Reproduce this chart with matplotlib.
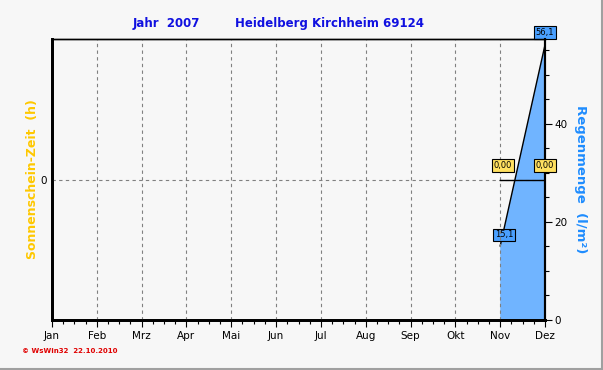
import matplotlib
matplotlib.use("Agg")
import matplotlib.pyplot as plt
import numpy as np
from matplotlib.ticker import MultipleLocator
from matplotlib.lines import Line2D

months = ["Jan", "Feb", "Mrz", "Apr", "Mai", "Jun", "Jul", "Aug", "Sep", "Okt", "Nov", "Dez"]
rain = [np.nan] * 10 + [15.1, 56.1]          # Regenmenge (l/m²)
sunshine = [np.nan] * 10 + [0.0, 0.0]         # Sonnenschein-Zeit (h)
rain_labels = ["15,1", "56,1"]
sun_labels = ["0,00", "0,00"]

BG = "#F7F7F7"
fig = plt.figure(figsize=(6.03, 3.70), dpi=100, facecolor=BG)
ax = fig.add_axes([52/603, 50/370, 493/603, 281/370])
ax.set_facecolor(BG)
ax2 = ax.twinx()

x = np.arange(len(months))
r = np.array(rain, dtype=float)
s = np.array(sunshine, dtype=float)

# rain area (right axis)
m = ~np.isnan(r)
ax2.fill_between(x[m], 0, r[m], facecolor="#70B4FF", edgecolor="none", zorder=2)
ax2.plot(x[m], r[m], color="black", lw=1.0, zorder=3)
ax2.set_ylim(0, 57.3)
ax2.yaxis.set_major_locator(MultipleLocator(20))
ax2.yaxis.set_minor_locator(MultipleLocator(5))
ax2.tick_params(axis="y", which="major", length=5, width=0.8, labelsize=7.5, pad=2)
ax2.tick_params(axis="y", which="minor", length=3, width=0.8)
ax2.set_ylabel("Regenmenge  (l/m²)", color="#1E8CFF", fontsize=9.5, fontweight="bold",
               rotation=270, labelpad=14)

# sunshine (left axis)
ax.set_ylim(-1, 1)
ax.set_yticks([0])
ax.tick_params(axis="y", length=0, labelsize=7.5, pad=4)
ax.axhline(0, color="#808080", lw=0.8, ls=(0, (3, 3)), zorder=1)
ms = ~np.isnan(s)
ax.plot(x[ms], s[ms], color="black", lw=1.0, zorder=4)
ax.set_ylabel("Sonnenschein-Zeit  (h)", color="#FFC800", fontsize=9, fontweight="bold",
              labelpad=1)
ax.set_zorder(ax2.get_zorder() + 1)
ax.patch.set_visible(False)
ax2.patch.set_visible(True)
ax2.patch.set_facecolor(BG)

# x axis
ax.set_xlim(0, 11)
ax.set_xticks(x)
ax.set_xticklabels(months)
ax.xaxis.set_minor_locator(MultipleLocator(0.25))
ax.tick_params(axis="x", which="major", length=5, width=0.8, labelsize=7.5, pad=3)
ax.tick_params(axis="x", which="minor", length=3, width=0.8)
for xi in x[1:-1]:
    ax.axvline(xi, color="#808080", lw=0.8, ls=(0, (3, 3)), zorder=1)

for a in (ax, ax2):
    a.spines["left"].set_linewidth(2)
    a.spines["bottom"].set_linewidth(2)
    a.spines["right"].set_linewidth(1.5)
    a.spines["top"].set_linewidth(1)

# value labels
blue_box = dict(boxstyle="square,pad=0.2", facecolor="#4AA0FF", edgecolor="black", lw=0.8)
yellow_box = dict(boxstyle="square,pad=0.2", facecolor="#FFE060", edgecolor="black", lw=0.8)
rx = x[m]
ax2.annotate(rain_labels[0], (rx[0], r[m][0]), xytext=(3, 8), textcoords="offset points",
             ha="center", va="center", fontsize=6, bbox=blue_box, zorder=6,
             annotation_clip=False)
ax2.annotate(rain_labels[1], (rx[1], r[m][1]), xytext=(0, 9), textcoords="offset points",
             ha="center", va="center", fontsize=6, bbox=blue_box, zorder=6,
             annotation_clip=False)
sx = x[ms]
ax.annotate(sun_labels[0], (sx[0], s[ms][0]), xytext=(2, 10), textcoords="offset points",
            ha="center", va="center", fontsize=6, bbox=yellow_box, zorder=6,
            annotation_clip=False)
ax.annotate(sun_labels[1], (sx[1], s[ms][1]), xytext=(0, 10), textcoords="offset points",
            ha="center", va="center", fontsize=6, bbox=yellow_box, zorder=6,
            annotation_clip=False)

# titles
fig.text(133/603, 1 - 23/370, "Jahr  2007", color="#1010E0", fontsize=8.5, fontweight="bold",
         ha="left", va="center")
fig.text(235/603, 1 - 23/370, "Heidelberg Kirchheim 69124", color="#1010E0", fontsize=8.5,
         fontweight="bold", ha="left", va="center")
fig.text(22/603, 1 - 351/370, "© WsWin32  22.10.2010", color="#E00000", fontsize=5,
         fontweight="bold", ha="left", va="center")

# figure frame (bottom and right edges)
fig.lines.append(Line2D([0, 1], [0.002, 0.002], transform=fig.transFigure, color="#A0A0A0", lw=1.5))
fig.lines.append(Line2D([0.998, 0.998], [0, 1], transform=fig.transFigure, color="#A0A0A0", lw=1.5))

fig.savefig("out.png", dpi=100, facecolor=BG)
